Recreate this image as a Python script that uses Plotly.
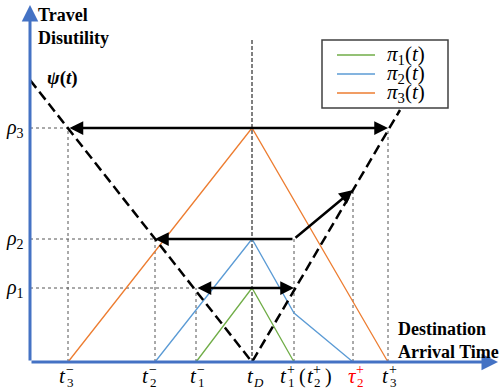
import plotly.graph_objects as go

# ---- data (chart units: origin at the axes corner) ----
t3m, t2m, t1m, tD, t1p, tau2p, t3p = 38, 125, 166, 222, 264, 323, 358
rho1, rho2, rho3 = 74, 123, 234

pi1_x = [t1m, tD, t1p]
pi1_y = [0, rho1, 0]
pi2_x = [t2m, tD, t1p, tau2p]
pi2_y = [0, rho2, 49, 0]
pi3_x = [t3m, tD, t3p]
pi3_y = [0, rho3, 0]

psi_x = [0, tD, 370]
psi_y = [282, 0, 252]
psi_at_tau2 = 172
tD_top = 323

tick_x = [t3m, t2m, t1m, tD, t1p, tau2p, t3p]
tick_base = ["t", "t", "t", "t", "t", "τ", "t"]
tick_sub = ["3", "2", "1", "D", "1", "2", "3"]
tick_sup = ["−", "−", "−", "", "+", "+", "+"]
tick_color = ["black"] * 5 + ["#FF0000", "black"]
tick_dx = [-2, -6, 1, 2, -7, 3, 1]

rho_vals = [rho1, rho2, rho3]
rho_subs = ["1", "2", "3"]

legend_names = ["<i>π</i><sub>1</sub>(<i>t</i>)", "<i>π</i><sub>2</sub>(<i>t</i>)", "<i>π</i><sub>3</sub>(<i>t</i>)"]
colors = ["#70AD47", "#5B9BD5", "#ED7D31"]

AXIS_BLUE = "#4472C4"
SERIF = "Liberation Serif"

fig = go.Figure()

def guide(xs, ys, dash="dot", color="#555555", width=1):
    fig.add_trace(go.Scatter(x=xs, y=ys, mode="lines", showlegend=False, hoverinfo="skip",
                             line=dict(color=color, width=width, dash=dash)))

# dotted guides
guide([0, t3m], [rho3, rho3]); guide([t3m, t3m], [0, rho3])
guide([0, t2m], [rho2, rho2]); guide([t2m, t2m], [0, rho2])
guide([0, t1m], [rho1, rho1]); guide([t1m, t1m], [0, rho1])
guide([t1p, t1p], [0, rho2])
guide([tau2p, tau2p], [0, psi_at_tau2])
guide([t3p, t3p], [0, rho3])
guide([tD, tD], [0, tD_top], dash="4px,2px", color="black", width=1)

# pi curves
for xs, ys, nm, c in zip([pi1_x, pi2_x, pi3_x], [pi1_y, pi2_y, pi3_y], legend_names, colors):
    fig.add_trace(go.Scatter(x=xs, y=ys, mode="lines", name=nm, showlegend=False,
                             line=dict(color=c, width=1.3)))

# psi
fig.add_trace(go.Scatter(x=psi_x, y=psi_y, mode="lines", showlegend=False,
                         line=dict(color="black", width=2.5, dash="10px,5px")))

anns = []
shapes = []

def arrow(x, y, ax, ay, color="black", width=2.5, both=False):
    d = dict(x=x, y=y, ax=ax, ay=ay, xref="x", yref="y", axref="x", ayref="y", text="",
             showarrow=True, arrowhead=2, arrowsize=1.1, arrowwidth=width, arrowcolor=color)
    if both:
        d.update(arrowside="end+start", startarrowhead=2, startarrowsize=1.1)
    anns.append(d)

# axes
arrow(0, 357, 0, 0, color=AXIS_BLUE, width=3)
arrow(468, 0, 0, 0, color=AXIS_BLUE, width=3)

# black arrows
arrow(t3p, rho3, t3m, rho3, both=True)
arrow(t2m, rho2, t1p, rho2)
arrow(tau2p, psi_at_tau2, t1p, rho2)
arrow(t1p, rho1, t1m, rho1, both=True)

def txt(x, y, text, size, color="black", xshift=0, yshift=0, xanchor="center", align="center"):
    anns.append(dict(x=x, y=y, xref="x", yref="y", text=text, showarrow=False,
                     xshift=xshift, yshift=yshift, xanchor=xanchor, yanchor="middle", align=align,
                     font=dict(family=SERIF, size=size, color=color)))

# tick labels with stacked sub/superscripts
LY = -14
for x, b, sb, sp, c, dx in zip(tick_x, tick_base, tick_sub, tick_sup, tick_color, tick_dx):
    txt(x, LY, f"<i>{b}</i>", 21, c, xshift=dx - 4)
    if sp:
        txt(x, LY, sp, 14, c, xshift=dx + 4, yshift=7)
    sub_txt = f"<i>{sb}</i>" if sb == "D" else sb
    txt(x, LY, sub_txt, 13, c, xshift=dx + 4, yshift=-6)

# "(t2+)" after t1+
txt(t1p, LY, "(", 20, xshift=8)
txt(t1p, LY, "<i>t</i>", 21, xshift=16)
txt(t1p, LY, "+", 14, xshift=23, yshift=7)
txt(t1p, LY, "2", 13, xshift=23, yshift=-6)
txt(t1p, LY, ")", 20, xshift=34)

# rho labels
for r, s in zip(rho_vals, rho_subs):
    txt(-15, r, f"<i>ρ</i><sub>{s}</sub>", 20)

# psi label
txt(32, 284, "<b><i>ψ</i>(<i>t</i>)</b>", 19)

# axis titles
txt(6, 336, "<b>Travel<br>Disutility</b>", 18, xanchor="left", align="left")
txt(366, 22, "<b>Destination<br>Arrival Time</b>", 18, xanchor="left", align="left")

# legend box (drawn manually to match the reference layout)
shapes.append(dict(type="rect", xref="x", yref="y", x0=292, x1=418, y0=254, y1=322,
                   line=dict(color="#404040", width=1.5), fillcolor="white", layer="above"))
for i, (nm, c) in enumerate(zip(legend_names, colors)):
    ly = 307 - 19 * i
    shapes.append(dict(type="line", xref="x", yref="y", x0=307, x1=345, y0=ly, y1=ly,
                       line=dict(color=c, width=1.3), layer="above"))
    txt(355, ly, nm, 21, xanchor="left")

fig.update_layout(
    width=500, height=389,
    margin=dict(l=0, r=0, t=0, b=0),
    paper_bgcolor="white", plot_bgcolor="white",
    xaxis=dict(range=[-30, 470], visible=False, fixedrange=True),
    yaxis=dict(range=[-27, 362], visible=False, fixedrange=True),
    annotations=anns,
    shapes=shapes,
    showlegend=False,
)

fig.write_html("out.html", config={"displayModeBar": False},
               post_script="document.body.style.margin='0px';document.body.style.overflow='hidden';")
